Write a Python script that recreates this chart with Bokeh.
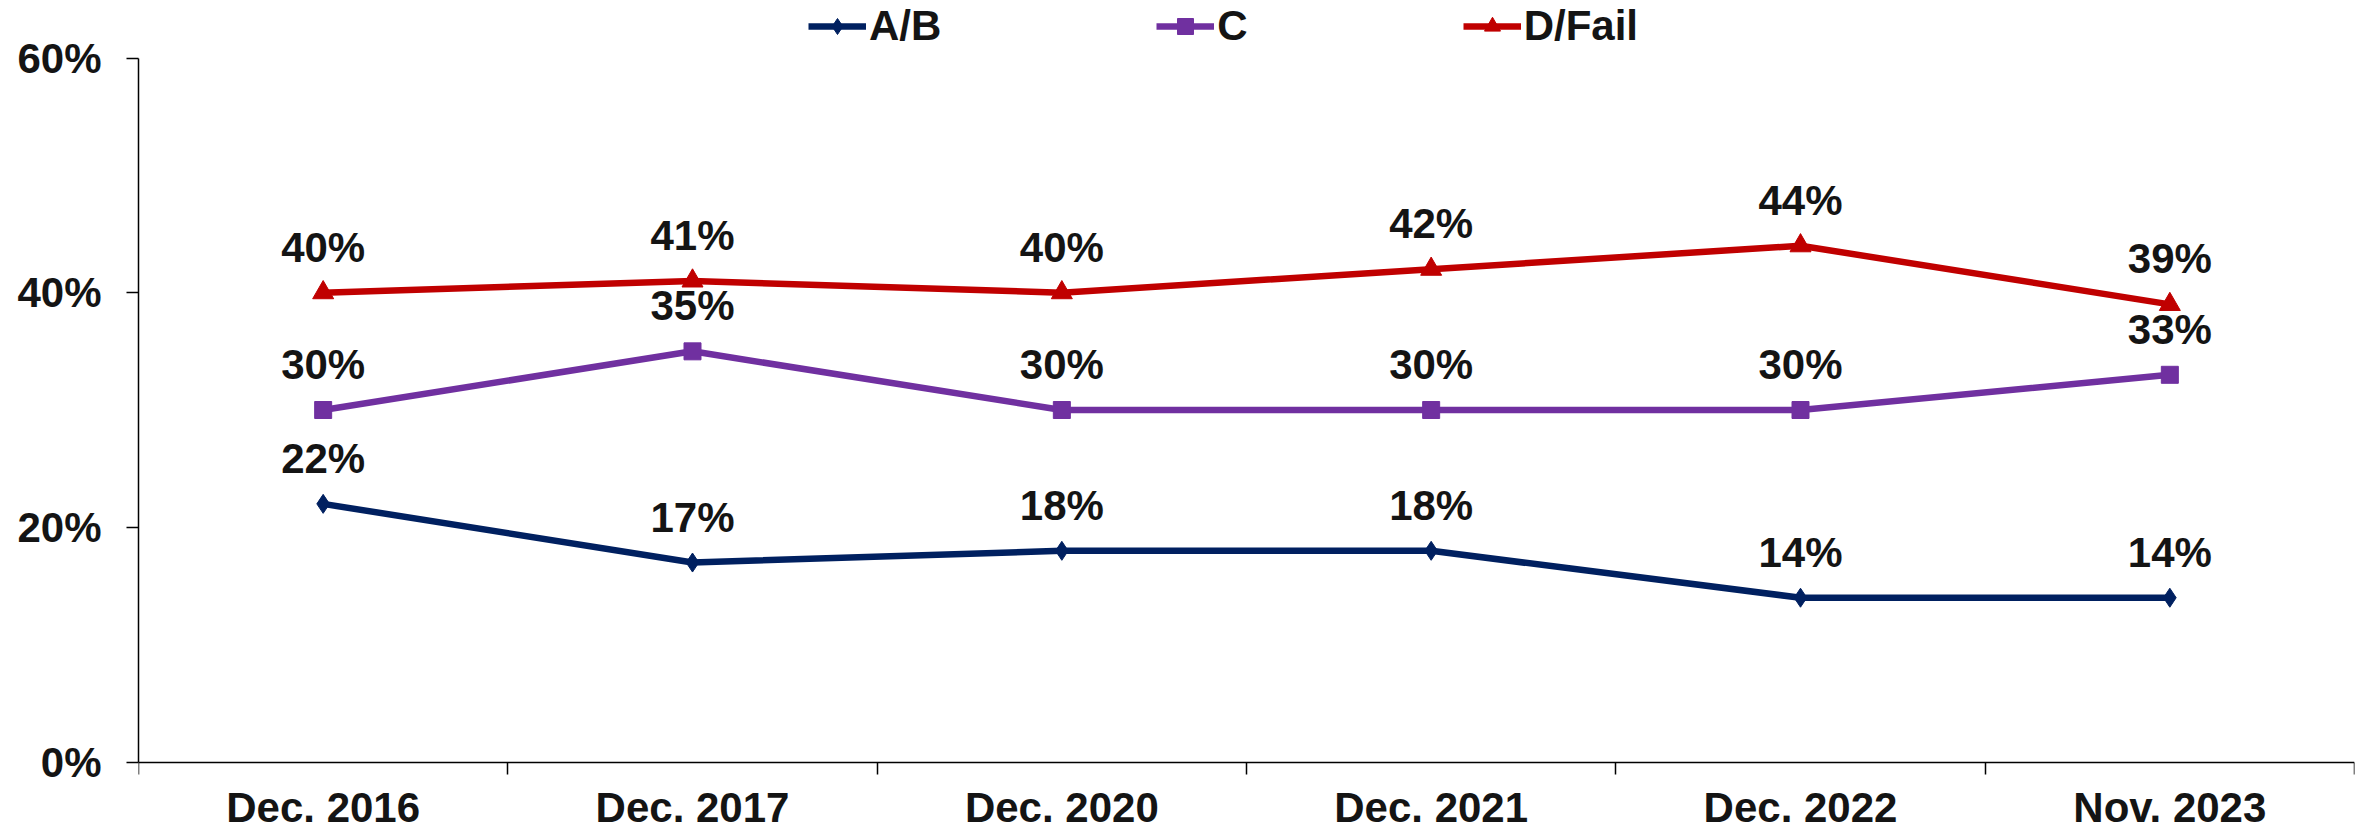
from bokeh.plotting import figure
from bokeh.models import (Range1d, FixedTicker, PrintfTickFormatter, LabelSet,
                          ColumnDataSource, Legend, LegendItem)
from bokeh.core.properties import value
from bokeh.embed import file_html
from bokeh.resources import INLINE

# ---- data ----
periods = ["Dec. 2016", "Dec. 2017", "Dec. 2020", "Dec. 2021", "Dec. 2022", "Nov. 2023"]
ab = [22, 17, 18, 18, 14, 14]
c_grade = [30, 35, 30, 30, 30, 33]
d_fail = [40, 41, 40, 42, 44, 39]
y_ticks = [0, 20, 40, 60]
series_names = ["A/B", "C", "D/Fail"]

# ---- styles / layout ----
colors = ["#002060", "#7030A0", "#C00000"]
TXT = "#141414"
SANS = "Liberation Sans"
W, H = 2374, 832
LEFT = 138
AX_TOP_PX = 57.5      # pixel row of the 60% tick
AX_BOT_PX = 761.5     # pixel row of the 0% line
px_per_unit = (AX_BOT_PX - AX_TOP_PX) / (y_ticks[-1] - y_ticks[0])
y_top = y_ticks[-1] + AX_TOP_PX / px_per_unit
y_bot = y_ticks[0] - (H - AX_BOT_PX) / px_per_unit

n = len(periods)
xpos = [i + 0.5 for i in range(n)]

p = figure(width=W, height=H, x_range=Range1d(0, n), y_range=Range1d(y_bot, y_top),
           output_backend="svg", toolbar_location=None,
           min_border_left=LEFT, min_border_right=20, min_border_top=0, min_border_bottom=0)
p.outline_line_color = None
p.grid.visible = False
p.background_fill_color = "white"
p.border_fill_color = "white"

# y axis
p.yaxis.ticker = FixedTicker(ticks=y_ticks, minor_ticks=[])
p.yaxis.bounds = (y_ticks[0], y_ticks[-1])
p.yaxis.formatter = PrintfTickFormatter(format="%d%%")
p.yaxis.major_tick_out = 12
p.yaxis.major_tick_in = 0
p.yaxis.major_label_standoff = 25
p.yaxis.major_label_text_font = SANS
p.yaxis.major_label_text_font_style = "bold"
p.yaxis.major_label_text_font_size = "42px"
p.yaxis.major_label_text_color = TXT
p.yaxis.axis_line_color = "black"
p.yaxis.axis_line_width = 1.5
p.yaxis.major_tick_line_color = "black"
p.yaxis.major_tick_line_width = 1.5

# x axis at y = 0: ticks at category boundaries (minor), labels at centers
p.xaxis.fixed_location = 0
p.xaxis.ticker = FixedTicker(ticks=xpos, minor_ticks=list(range(n + 1)))
p.xaxis.major_label_overrides = {x: lab for x, lab in zip(xpos, periods)}
p.xaxis.major_label_text_font = SANS
p.xaxis.major_label_text_font_style = "bold"
p.xaxis.major_label_text_font_size = "42px"
p.xaxis.major_label_text_color = TXT
p.xaxis.major_label_standoff = 10
p.xaxis.major_tick_out = 0
p.xaxis.major_tick_in = 0
p.xaxis.minor_tick_out = 12
p.xaxis.minor_tick_in = 0
p.xaxis.minor_tick_line_color = "black"
p.xaxis.minor_tick_line_width = 1.5
p.xaxis.axis_line_color = "black"
p.xaxis.axis_line_width = 1.5

all_series = [ab, c_grade, d_fail]
markers = [("diamond", 19), ("square", 17), ("triangle", 21)]
items = []
for name, vals, col, (mk, sz) in zip(series_names, all_series, colors, markers):
    src = ColumnDataSource(dict(x=xpos, y=vals, lab=[f"{v}%" for v in vals]))
    ln = p.line("x", "y", source=src, line_color=col, line_width=6.5)
    sc = p.scatter("x", "y", source=src, marker=mk, size=sz,
                   fill_color=col, line_color=col)
    p.add_layout(LabelSet(x="x", y="y", text="lab", source=src, y_offset=31,
                          text_align="center", text_baseline="alphabetic",
                          text_font=value(SANS), text_font_style="bold",
                          text_font_size="42px", text_color=TXT))
    items.append(LegendItem(label=name, renderers=[ln, sc]))

legend = Legend(items=items, orientation="horizontal", location=(670, 782),
                glyph_width=58, glyph_height=40, label_standoff=3, spacing=215,
                padding=0, margin=0, border_line_color=None, background_fill_alpha=0,
                label_text_font=SANS, label_text_font_style="bold",
                label_text_font_size="42px", label_text_color=TXT,
                label_width=10, label_height=40)
p.add_layout(legend)

open("out.html", "w").write(file_html(p, INLINE))
